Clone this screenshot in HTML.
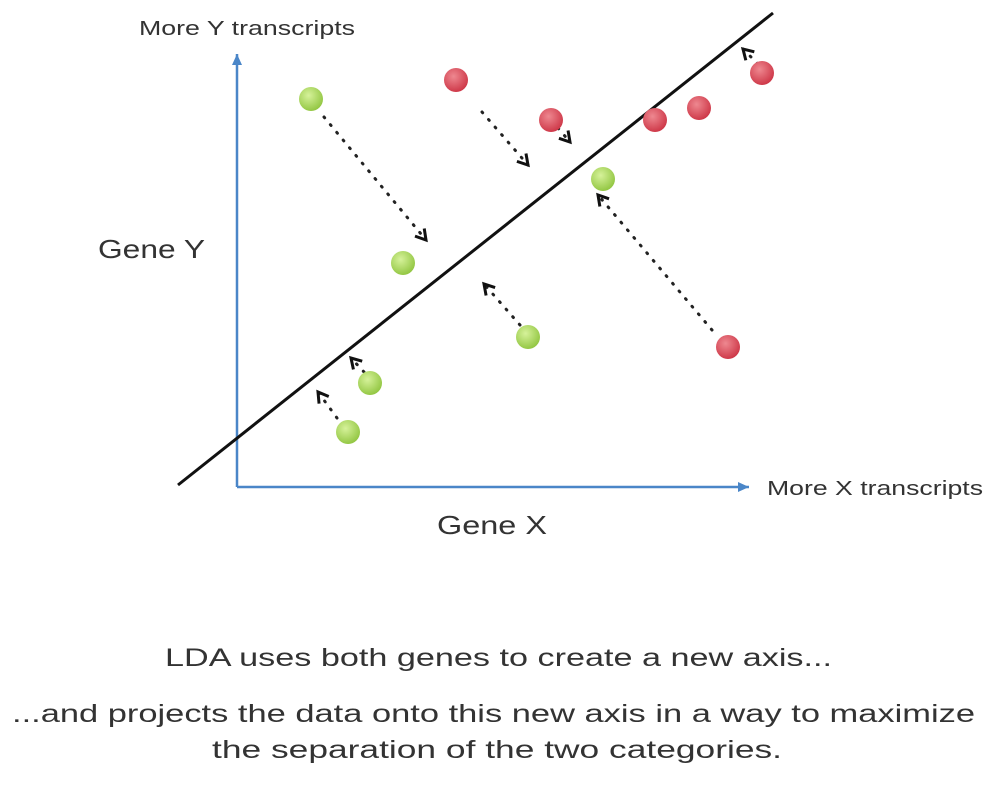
<!DOCTYPE html>
<html><head><style>
body{margin:0;background:#fff;width:996px;height:806px;overflow:hidden;font-family:"Liberation Sans",sans-serif;}
</style></head><body>
<svg width="996" height="806" xmlns="http://www.w3.org/2000/svg">
<defs>
<radialGradient id="g" cx="0.4" cy="0.35" r="0.7"><stop offset="0" stop-color="#d6f29a"/><stop offset="1" stop-color="#8fc43e"/></radialGradient>
<radialGradient id="r" cx="0.4" cy="0.35" r="0.7"><stop offset="0" stop-color="#ee8890"/><stop offset="1" stop-color="#cc3344"/></radialGradient>
<marker id="ah" markerWidth="16" markerHeight="16" refX="12" refY="8" orient="auto" markerUnits="userSpaceOnUse"><path d="M2,2 L12,8 L2,14" fill="none" stroke="#111" stroke-width="3"/></marker>
<marker id="bl" markerWidth="14" markerHeight="14" refX="12" refY="7" orient="auto" markerUnits="userSpaceOnUse"><path d="M1,2 L12,7 L1,12 Z" fill="#4a86c8"/></marker>
</defs>
<g stroke="#4a86c8" stroke-width="2.5" fill="none">
<line x1="237" y1="487" x2="237" y2="54" marker-end="url(#bl)"/>
<line x1="237" y1="487" x2="749" y2="487" marker-end="url(#bl)"/>
</g>
<line x1="178" y1="485" x2="773" y2="13" stroke="#111" stroke-width="3"/>
<g stroke="#222" stroke-width="3" stroke-dasharray="1 9" stroke-linecap="round" fill="none" marker-end="url(#ah)">
<line x1="324" y1="117" x2="426" y2="240"/>
<line x1="482" y1="112" x2="528" y2="165"/>
<line x1="558" y1="128" x2="570" y2="142"/>
<line x1="712" y1="330" x2="598" y2="195"/>
<line x1="520" y1="325" x2="484" y2="284"/>
<line x1="364" y1="372" x2="351" y2="358"/>
<line x1="337" y1="418" x2="318" y2="392"/>
<line x1="758" y1="64" x2="743" y2="49"/>
</g>
<g stroke-width="1">
<circle cx="311" cy="99" r="12" fill="url(#g)"/>
<circle cx="403" cy="263" r="12" fill="url(#g)"/>
<circle cx="528" cy="337" r="12" fill="url(#g)"/>
<circle cx="603" cy="179" r="12" fill="url(#g)"/>
<circle cx="370" cy="383" r="12" fill="url(#g)"/>
<circle cx="348" cy="432" r="12" fill="url(#g)"/>
<circle cx="456" cy="80" r="12" fill="url(#r)"/>
<circle cx="551" cy="120" r="12" fill="url(#r)"/>
<circle cx="655" cy="120" r="12" fill="url(#r)"/>
<circle cx="699" cy="108" r="12" fill="url(#r)"/>
<circle cx="762" cy="73" r="12" fill="url(#r)"/>
<circle cx="728" cy="347" r="12" fill="url(#r)"/>
</g>
<g fill="#333" font-family="Liberation Sans, sans-serif">
<text x="139" y="35" font-size="20" textLength="216" lengthAdjust="spacingAndGlyphs">More Y transcripts</text>
<text x="98" y="258" font-size="26" textLength="107" lengthAdjust="spacingAndGlyphs">Gene Y</text>
<text x="437" y="534" font-size="26" textLength="110" lengthAdjust="spacingAndGlyphs">Gene X</text>
<text x="767" y="495" font-size="20" textLength="216" lengthAdjust="spacingAndGlyphs">More X transcripts</text>
<text x="165" y="666" font-size="25" textLength="667" lengthAdjust="spacingAndGlyphs">LDA uses both genes to create a new axis...</text>
<text x="12" y="722" font-size="25" textLength="963" lengthAdjust="spacingAndGlyphs">...and projects the data onto this new axis in a way to maximize</text>
<text x="212" y="758" font-size="25" textLength="570" lengthAdjust="spacingAndGlyphs">the separation of the two categories.</text>
</g>
</svg>
</body></html>
